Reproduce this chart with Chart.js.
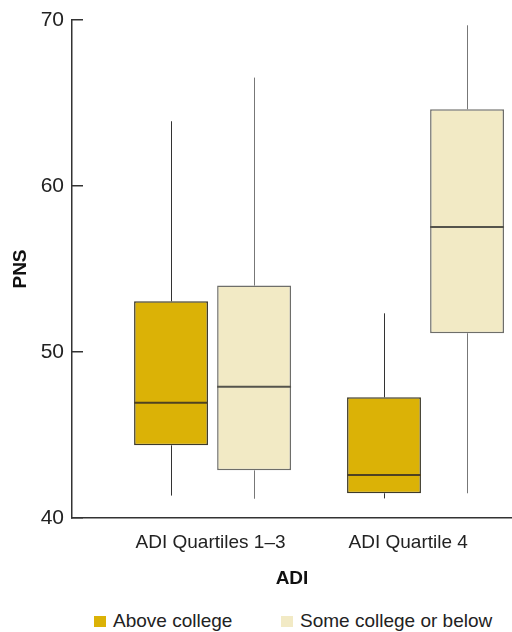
<!DOCTYPE html>
<html>
<head>
<meta charset="utf-8">
<script src="https://cdn.jsdelivr.net/npm/chart.js@4"></script>
<style>
  body { margin: 0; background: #fff; font-family: 'Liberation Sans', Arial, sans-serif; }
  #wrap { position: relative; width: 512px; height: 600px; }
  #legend { position: absolute; left: 0; top: 610px; width: 512px; height: 22px; font-size: 19px; color: #222; }
  #legend span.item { position: absolute; top: 0; white-space: nowrap; }
  #legend span.box { display: inline-block; width: 12px; height: 11px; margin-right: 7px; vertical-align: 0px; }
</style>
</head>
<body>
<div id="wrap"><canvas id="chart"></canvas></div>
<div id="legend"></div>
<script>
const categories = ['ADI Quartiles 1–3', 'ADI Quartile 4'];
const seriesNames = ['Above college', 'Some college or below'];
// [min, q1, median, q3, max] per category
const aboveCollege = [
  [41.35, 44.38, 46.95, 53.05, 63.9],
  [41.18, 41.49, 42.59, 47.27, 52.33]
];
const someCollege = [
  [41.16, 42.87, 47.91, 54.0, 66.53],
  [41.49, 51.13, 57.53, 64.62, 69.68]
];
const yTicks = [40, 50, 60, 70];

const fills = ['#DBB206', '#F2EAC5'];
const borders = ['#3d3a2a', '#6e6e6a'];
const medianColors = ['#4e4222', '#55544c'];
const whiskerColors = ['#333333', '#777777'];

const xPos = categories.map((c, i) => i + 1);

function boxData(stats) {
  return stats.map((s, i) => ({ x: xPos[i], y: [s[1], s[3]] }));
}

const allStats = [aboveCollege, someCollege];

// whiskers behind boxes, medians on top
const boxplotLines = {
  id: 'boxplotLines',
  beforeDatasetsDraw(chart) {
    const ctx = chart.ctx;
    const y = chart.scales.y;
    ctx.save();
    allStats.forEach((stats, d) => {
      const meta = chart.getDatasetMeta(d);
      meta.data.forEach((el, i) => {
        const s = stats[i];
        ctx.strokeStyle = whiskerColors[d];
        ctx.lineWidth = 1;
        const x = Math.round(el.x) + 0.5;
        ctx.beginPath();
        ctx.moveTo(x, y.getPixelForValue(s[0]));
        ctx.lineTo(x, y.getPixelForValue(s[1]));
        ctx.moveTo(x, y.getPixelForValue(s[3]));
        ctx.lineTo(x, y.getPixelForValue(s[4]));
        ctx.stroke();
      });
    });
    ctx.restore();
  },
  afterDatasetsDraw(chart) {
    const ctx = chart.ctx;
    const y = chart.scales.y;
    ctx.save();
    allStats.forEach((stats, d) => {
      const meta = chart.getDatasetMeta(d);
      meta.data.forEach((el, i) => {
        const py = y.getPixelForValue(stats[i][2]);
        ctx.strokeStyle = medianColors[d];
        ctx.lineWidth = 2;
        ctx.beginPath();
        ctx.moveTo(el.x - el.width / 2, py);
        ctx.lineTo(el.x + el.width / 2, py);
        ctx.stroke();
      });
    });
    ctx.restore();
  }
};

new Chart(document.getElementById('chart'), {
  type: 'bar',
  data: {
    datasets: [
      {
        label: seriesNames[0],
        data: boxData(aboveCollege),
        backgroundColor: fills[0],
        borderColor: borders[0],
        borderWidth: 1.5,
        borderSkipped: false
      },
      {
        label: seriesNames[1],
        data: boxData(someCollege),
        backgroundColor: fills[1],
        borderColor: borders[1],
        borderWidth: 1.5,
        borderSkipped: false
      }
    ]
  },
  options: {
    responsive: true,
    maintainAspectRatio: false,
    animation: false,
    categoryPercentage: 0.78,
    barPercentage: 0.89,
    layout: { padding: { top: 20, right: 0, left: 0, bottom: 0 } },
    plugins: {
      legend: { display: false },
      tooltip: { enabled: false }
    },
    scales: {
      x: {
        type: 'linear',
        offset: false,
        min: 0.34,
        max: 2.406,
        afterBuildTicks: (scale) => { scale.ticks = xPos.map(v => ({ value: v })); },
        afterFit: (scale) => {
          scale.height = 82;
          scale.paddingLeft = 0;
          scale.paddingRight = 0;
        },
        grid: { display: false, offset: false },
        border: { display: true, color: '#333', width: 1.5 },
        ticks: {
          align: 'start',
          labelOffset: -77,
          padding: 5,
          maxRotation: 0,
          color: '#222',
          font: { family: 'Liberation Sans', size: 19 },
          callback: (v) => categories[xPos.indexOf(v)] || ''
        },
        title: {
          display: true,
          text: 'ADI',
          color: '#111',
          font: { family: 'Liberation Sans', size: 19, weight: 'bold' },
          padding: { top: 0, bottom: 10 }
        }
      },
      y: {
        min: 40,
        max: 70,
        afterBuildTicks: (scale) => { scale.ticks = yTicks.map(v => ({ value: v })); },
        afterFit: (scale) => {
          scale.width = 72;
          scale.paddingTop = 0;
          scale.paddingBottom = 0;
        },
        grid: { drawOnChartArea: false, drawTicks: true, tickLength: -11, color: '#333', tickColor: '#333', lineWidth: 1.5 },
        border: { display: true, color: '#333', width: 1.5 },
        ticks: {
          padding: 19,
          color: '#222',
          font: { family: 'Liberation Sans', size: 21 }
        },
        title: {
          display: true,
          text: 'PNS',
          color: '#111',
          font: { family: 'Liberation Sans', size: 19, weight: 'bold' },
          padding: { top: 9, bottom: 0 }
        }
      }
    }
  },
  plugins: [boxplotLines]
});

// legend
const legendLeft = [94, 281];
const legendEl = document.getElementById('legend');
seriesNames.forEach((name, i) => {
  const item = document.createElement('span');
  item.className = 'item';
  item.style.left = legendLeft[i] + 'px';
  const box = document.createElement('span');
  box.className = 'box';
  box.style.background = fills[i];
  item.appendChild(box);
  item.appendChild(document.createTextNode(name));
  legendEl.appendChild(item);
});
</script>
</body>
</html>
